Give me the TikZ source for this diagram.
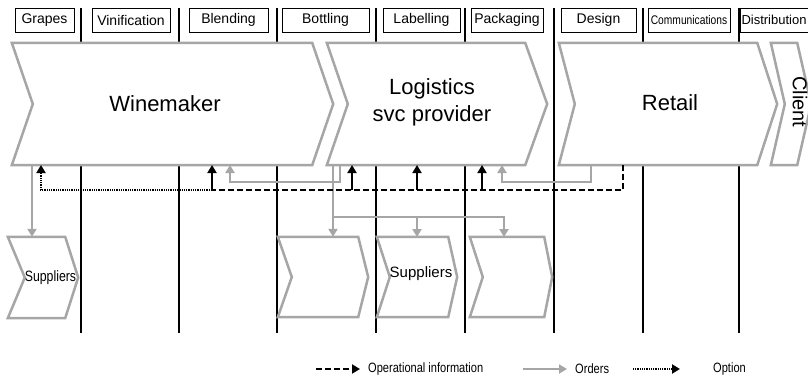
\documentclass[tikz,border=0pt]{standalone}
\usepackage{fontspec}
\setmainfont{Liberation Sans}
\newfontfamily\narrowfont[FakeStretch=0.82]{Liberation Sans}
\usetikzlibrary{arrows.meta}
\definecolor{chevgray}{RGB}{166,166,166}

\begin{document}
\begin{tikzpicture}[
      x=1pt, y=-1pt,
      stage/.style = {draw, line width=0.8, minimum height=24, inner sep=0pt, font=\fontsize{14}{16}\selectfont},
      chevbox/.style = {inner sep=0pt},
      chevline/.style = {draw=chevgray, line width=2.5, fill=white, line join=miter},
      lane/.style = {line width=2},
      bigtxt/.style = {inner sep=0pt, font=\fontsize{22}{27}\selectfont},
      suptxt/.style = {inner sep=0pt, font=\fontsize{15}{17}\selectfont},
      legtxt/.style = {inner sep=0pt, anchor=west, font=\narrowfont\fontsize{13.5}{15}\selectfont},
      order/.style = {draw=chevgray, line width=2, -{Triangle[length=8pt, width=9pt]}},
      info/.style = {line width=1.8, dash pattern=on 6pt off 3pt},
      infotip/.style = {line width=1.8, -{Triangle[length=8pt, width=9pt]}},
      option/.style = {line width=2, dash pattern=on 1pt off 0.8pt, -{Triangle[length=8pt, width=9pt]}},
    ]
    \path[use as bounding box, clip] (0,0) rectangle (808,380);

    % swim lanes
    \foreach \x in {81,179,277,376,465,554,643,739}
      \draw[lane] (\x,8) -- (\x,333);

    % process steps
    \node[stage, minimum width=59] (grapes) at (44.5,20)  {Grapes};
    \node[stage, minimum width=78] (vinif)  at (131,20)   {Vinification};
    \node[stage, minimum width=79] (blend)  at (228.5,20) {Blending};
    \node[stage, minimum width=87] (bottl)  at (325.5,20) {Bottling};
    \node[stage, minimum width=77] (label)  at (421.5,20) {Labelling};
    \node[stage, minimum width=72] (packg)  at (507,20)   {Packaging};
    \node[stage, minimum width=75] (design) at (598.5,20) {Design};
    \node[stage, minimum width=82, font=\narrowfont\fontsize{12.5}{15}\selectfont] (comms) at (689,20) {Communications};
    \node[stage, minimum width=75, text width=72, align=left, font=\fontsize{13}{15}\selectfont] (distr) at (777.5,20) {Distribution};

    % actors
    \node[chevbox, minimum width=321, minimum height=122] (wine)   at (172.5,104) {};
    \node[chevbox, minimum width=220, minimum height=122] (lsp)    at (437,104)   {};
    \node[chevbox, minimum width=218, minimum height=122] (retail) at (668,104)   {};
    \node[chevbox, minimum width=40,  minimum height=122] (client) at (791,104)   {};
    \node[chevbox, minimum width=70, minimum height=81] (sup1) at (43,277.5) {};
    \node[chevbox, minimum width=90, minimum height=80] (bot)  at (323,277)  {};
    \node[chevbox, minimum width=80, minimum height=80] (lab)  at (417,277)  {};
    \node[chevbox, minimum width=82, minimum height=80] (pack) at (511,277)  {};

    \foreach \n/\a/\b in {wine/21/21, lsp/21/22, retail/16/20, client/14/14,
                          sup1/17/13, bot/14/10, lab/13/9, pack/13/8}
      \draw[chevline] (\n.north west) -- ([xshift=-\b]\n.north east) -- (\n.east)
        -- ([xshift=-\b]\n.south east) -- (\n.south west) -- ([xshift=\a]\n.west) -- cycle;

    \node[bigtxt] (winetxt) at (165,104) {Winemaker};
    \node[bigtxt, align=center] (lsptxt) at (432,102) {Logistics\\svc provider};
    \node[bigtxt] (retailtxt) at (670,103) {Retail};
    \node[bigtxt, rotate=-90, font=\fontsize{20}{24}\selectfont] (clienttxt) at (800,102) {Client};
    \node[suptxt, font=\narrowfont\fontsize{15}{17}\selectfont] (sup1txt) at (50.5,278) {Suppliers};
    \node[suptxt] (labtxt) at (421,274) {Suppliers};

    % connector ends
    \coordinate (wo)    at (32,165);
    \coordinate (wi1)   at (230,165);
    \coordinate (wi2)   at (212,165);
    \coordinate (wopt)  at (41,165);
    \coordinate (lo1)   at (340,165);
    \coordinate (lo2)   at (333,165);
    \coordinate (li1)   at (502,165);
    \coordinate (li2)   at (352,165);
    \coordinate (li3)   at (417,165);
    \coordinate (li4)   at (482,165);
    \coordinate (ro)    at (591,165);
    \coordinate (ri)    at (623,165);
    \coordinate (split) at (333,217);
    \coordinate (labin) at (417,237);
    \coordinate (packin) at (504,237);
    \coordinate (wtap)  at (212,190);

    % orders
    \draw[order] (wo) -- (wo |- sup1.north);
    \draw[order] (lo1) -- ++(0,17) -| (wi1);
    \draw[order] (ro) -- ++(0,17) -| (li1);
    \draw[order] (lo2) -- (lo2 |- bot.north);
    \draw[order] (split) -| (packin);
    \draw[order] (split -| labin) -- (labin);

    % operational information
    \draw[info] (ri) |- (wtap);
    \foreach \c in {wi2,li2,li3,li4}
      \draw[infotip] (\c |- wtap) -- (\c);
    \draw[option] (wtap) -| (wopt);

    % legend
    \node[legtxt] (leginfo) at (368,369) {Operational information};
    \node[legtxt] (legord)  at (575,369) {Orders};
    \node[legtxt] (legopt)  at (713,369) {Option};
    \coordinate (lg1) at (316,369);
    \coordinate (lg2) at (523,369);
    \coordinate (lg3) at (633,369);
    \draw[info, -{Triangle[length=8pt, width=9pt]}] (lg1) -- ([xshift=-8]leginfo.west);
    \draw[order] (lg2) -- ([xshift=-8]legord.west);
    \draw[option] (lg3) -- ([xshift=-33]legopt.west);
  \end{tikzpicture}
\end{document}
